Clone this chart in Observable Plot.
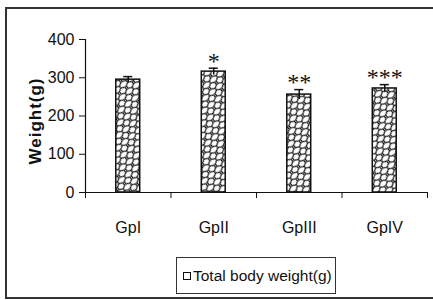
<!DOCTYPE html>
<html>
<head>
<meta charset="utf-8">
<script src="https://cdn.jsdelivr.net/npm/d3@7"></script>
<script src="https://cdn.jsdelivr.net/npm/@observablehq/plot@0.6"></script>
<style>
  html, body { margin: 0; padding: 0; background: #fff; }
  #wrap { position: relative; width: 433px; height: 300px; overflow: hidden; font-family: "Liberation Sans", Arial, sans-serif; }
  #frame { position: absolute; left: 5px; top: 7px; width: 440px; height: 288px; border: 2px solid #333; border-right: none; box-sizing: content-box; }
  #legend { position: absolute; left: 176px; top: 257px; width: 158px; height: 35px; border: 1px solid #333; display: flex; align-items: center; font-size: 15.5px; color: #111; }
  #legend .sw { width: 6px; height: 6px; border: 1.5px solid #111; margin-left: 6px; margin-right: 2px; background: #fff; }
  #chart { position: absolute; left: 0; top: 0; }
</style>
</head>
<body>
<div id="wrap">
  <div id="frame"></div>
  <div id="chart"></div>
  <div id="legend"><div class="sw"></div><span id="legtext"></span></div>
</div>
<script>
const groups = ["GpI", "GpII", "GpIII", "GpIV"];
const weights = [295, 316, 256, 272];
const errors = [8, 9, 13, 10];
const signif = ["", "*", "**", "***"];
const yTicks = [0, 100, 200, 300, 400];
const seriesName = "Total body weight(g)";
const yLabel = "Weight(g)";

document.getElementById("legtext").textContent = seriesName;

const data = groups.map((g, i) => ({ g, i, v: weights[i], e: errors[i], s: signif[i] }));
const halfBar = 0.14, halfCap = 0.053;

const plot = Plot.plot({
  width: 433,
  height: 300,
  marginLeft: 85,
  marginRight: 6,
  marginTop: 39,
  marginBottom: 108,
  style: { fontFamily: "'Liberation Sans', Arial, sans-serif", fontSize: "16px", color: "#111", background: "transparent" },
  x: { type: "linear", domain: [0, groups.length], axis: null },
  y: { type: "linear", domain: [0, 400], axis: null },
  marks: [
    Plot.rectY(data, { x1: d => d.i + 0.5 - halfBar, x2: d => d.i + 0.5 + halfBar, y1: 0, y2: "v", fill: "url(#weave)", stroke: "#111", strokeWidth: 1.5 }),
    Plot.ruleX(data, { x: d => d.i + 0.5, y1: d => d.v - d.e, y2: d => d.v + d.e, stroke: "#111", strokeWidth: 1.5 }),
    Plot.ruleY(data, { x1: d => d.i + 0.5 - halfCap, x2: d => d.i + 0.5 + halfCap, y: d => d.v + d.e, stroke: "#111", strokeWidth: 1.5 }),
    Plot.text(data, { x: d => d.i + 0.5, y: d => d.v + d.e, text: "s", fontFamily: "'Liberation Serif', serif", fontSize: 24, dy: -7, lineAnchor: "middle", fill: "#111" }),
    Plot.ruleX([0], { y1: 0, y2: 400, stroke: "#111", strokeWidth: 1.2 }),
    Plot.ruleY([0], { x1: 0, x2: groups.length, stroke: "#111", strokeWidth: 1.2 }),
    Plot.axisY({ ticks: yTicks, tickSize: 6, tickPadding: 5, stroke: "#111", fill: "#111", fontSize: 16, label: null }),
    Plot.axisX({ ticks: d3.range(groups.length + 1), tickSize: 6, tickFormat: () => "", stroke: "#111", label: null }),
    Plot.text(data, { x: d => d.i + 0.5, y: 0, text: "g", dy: 35, lineAnchor: "middle", fontSize: 16, fill: "#111" }),
    Plot.text([yLabel], { frameAnchor: "left", textAnchor: "middle", dx: -50, dy: 5, rotate: -90, fontWeight: "bold", fontSize: 17, fill: "#111" })
  ]
});

const ns = "http://www.w3.org/2000/svg";
const defs = document.createElementNS(ns, "defs");
defs.innerHTML = `
<pattern id="weave" width="9" height="9" patternUnits="userSpaceOnUse" patternTransform="rotate(-40)">
  <rect x="-1" y="-1" width="11" height="11" fill="#fff"/>
  <path d="M0,1 L3.5,3 L3.5,6 L0,8 M9,1 L5.5,3 L5.5,6 L9,8 M3.5,3 L5.5,3 M3.5,6 L5.5,6 M0,8 L0,10 M9,8 L9,10 M0,-1 L0,1 M9,-1 L9,1" fill="none" stroke="#111" stroke-width="1.2"/>
</pattern>`;
plot.insertBefore(defs, plot.firstChild);
plot.querySelectorAll("text").forEach(t => { if (t.textContent === yLabel) t.setAttribute("letter-spacing", "1"); });
document.getElementById("chart").appendChild(plot);
</script>
</body>
</html>
